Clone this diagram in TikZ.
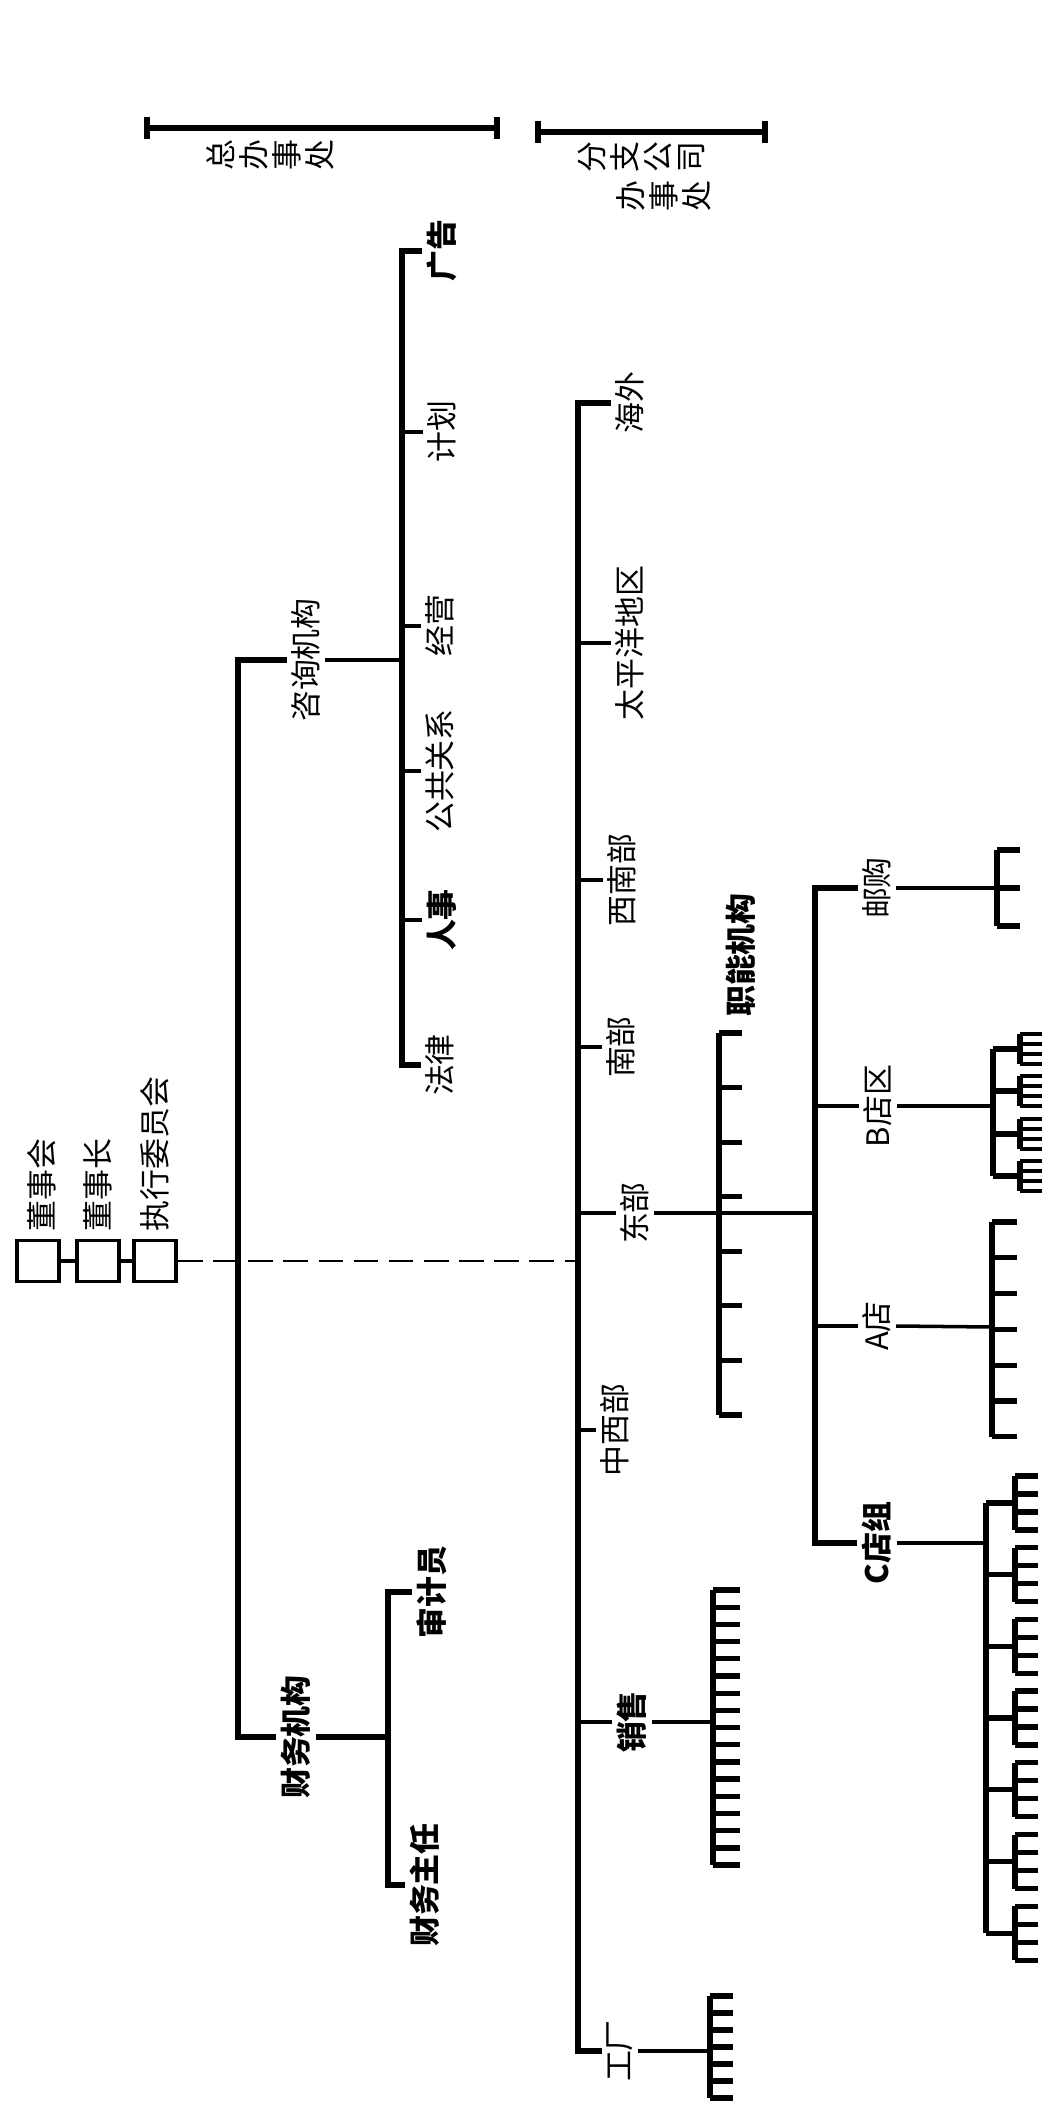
\documentclass[tikz,border=0pt]{standalone}
\usepackage{fontspec}
\setmainfont{Noto Sans CJK SC}
\usetikzlibrary{calc}
\tikzset{
  lbl/.style={rotate=90,inner sep=1.2pt,align=center,
    font=\fontsize{8.8}{9.4}\selectfont},
  boldlbl/.style={lbl,font=\fontsize{8.8}{9.4}\selectfont\bfseries},
  wire/.style={line width=1pt},
  heavy/.style={line width=1.5pt},
  dashwire/.style={line width=0.7pt,dash pattern=on 7pt off 3pt},
  member/.style={draw,line width=1.1pt,minimum width=4.2mm,
    minimum height=4.1mm,inner sep=0pt}
}
\begin{document}
\begin{tikzpicture}[x=0.1mm,y=-0.1mm]
  \useasboundingbox (0,0) rectangle (1062,2112);

  \coordinate (hql) at (147,128);
  \coordinate (hqr) at (497,128);
  \draw[heavy] (hql) -- (hqr);
  \draw[heavy] (hql) ++(0,-11) -- ++(0,22);
  \draw[heavy] (hqr) ++(0,-11) -- ++(0,22);
  \node[lbl] (hq) at (270,155) {总\\办\\事\\处};
  \coordinate (brl) at (538,132);
  \coordinate (brr) at (765,132);
  \draw[heavy] (brl) -- (brr);
  \draw[heavy] (brl) ++(0,-11) -- ++(0,22);
  \draw[heavy] (brr) ++(0,-11) -- ++(0,22);
  \node[lbl] (branch) at (641,157) {分\\支\\公\\司};
  \node[lbl] (branchb) at (664,196) {办\\事\\处};

  \node[member] (board) at (38,1261) {};
  \node[member] (chair) at (98,1261) {};
  \node[member] (exec) at (155,1261) {};
  \draw[wire] (board) -- (chair);
  \draw[wire] (chair) -- (exec);
  \node[lbl,anchor=west] (boardt) at (42,1236) {董事会};
  \node[lbl,anchor=west] (chairt) at (98,1236) {董事长};
  \node[lbl,anchor=west] (exect) at (155,1236) {执行委员会};

  \coordinate (tx) at (238,0);
  \coordinate (cvx) at (402,0);
  \coordinate (dvx) at (578,0);
  \coordinate (fvx) at (388,0);
  \coordinate (svx) at (815,0);

  \node[lbl] (consult) at (306,660) {咨询机构};
  \node[boldlbl] (finance) at (296,1737) {财务机构};
  \draw[heavy] (consult.north) -- (consult.north -| tx)
    -- (finance.north -| tx) -- (finance.north);

  \node[boldlbl] (ad) at (442,251) {广告};
  \node[lbl] (plan) at (442,432) {计划};
  \node[lbl] (ops) at (440,626) {经营};
  \node[lbl] (pr) at (440,771) {公共关系};
  \node[boldlbl] (hr) at (442,920) {人事};
  \node[lbl] (law) at (440,1065) {法律};
  \draw[wire] (consult.south) -- (consult.south -| cvx);
  \draw[heavy] (ad.north) -- (ad.north -| cvx) -- (law.north -| cvx) -- (law.north);
  \foreach \n in {plan,ops,pr,hr}
    \draw[wire] (\n.north) -- (\n.north -| cvx);

  \node[lbl] (oversea) at (630,403) {海外};
  \node[lbl] (pacific) at (630,643) {太平洋地区};
  \node[lbl] (southwest) at (622,880) {西南部};
  \node[lbl] (south) at (621,1047) {南部};
  \node[lbl] (east) at (635,1213) {东部};
  \node[lbl] (midwest) at (615,1430) {中西部};
  \node[boldlbl] (sales) at (632,1722) {销售};
  \node[lbl] (factory) at (620,2051) {工厂};
  \draw[heavy] (oversea.north) -- (oversea.north -| dvx)
    -- (factory.north -| dvx) -- (factory.north);
  \foreach \n in {pacific,southwest,south,east,midwest,sales}
    \draw[wire] (\n.north) -- (\n.north -| dvx);
  \draw[dashwire] (exec.east) -- (exec.east -| dvx);

  \node[boldlbl] (audit) at (432,1592) {审计员};
  \node[boldlbl] (cfo) at (425,1885) {财务主任};
  \draw[heavy] (finance.south) -- (finance.south -| fvx);
  \draw[heavy] (audit.north) -- (audit.north -| fvx)
    -- (cfo.north -| fvx) -- (cfo.north);

  \node[boldlbl] (func) at (741,955) {职能机构};
  \coordinate (functop) at (719,1033);
  \draw[heavy] (functop) -- ++(0,382);
  \foreach \k in {0,...,7}
    \draw[heavy] (functop) ++(0,\k*54.57) -- ++(23,0);

  \node[lbl] (mail) at (877,888) {邮购};
  \node[lbl] (bzone) at (878,1106) {B店区};
  \node[lbl] (astore) at (877,1326) {A店};
  \node[boldlbl] (cgroup) at (877,1543) {C店组};
  \draw[wire] (east.south) -- (east.south -| svx);
  \draw[heavy] (mail.north) -- (mail.north -| svx)
    -- (cgroup.north -| svx) -- (cgroup.north);
  \foreach \n in {bzone,astore}
    \draw[wire] (\n.north) -- (\n.north -| svx);

  \coordinate (mailc) at (997,888);
  \draw[wire] (mail.south) -- (mailc);
  \draw[heavy] (mailc) ++(0,-38) -- ++(0,76);
  \foreach \d in {-38,0,38}
    \draw[heavy] (mailc) ++(0,\d) -- ++(23,0);

  \coordinate (bzc) at (993,1106);
  \draw[wire] (bzone.south) -- (bzc);
  \draw[heavy] (bzc) ++(0,-57) -- ++(0,127);
  \foreach \c in {-57,-15,28,70} {
    \draw[heavy] (bzc) ++(0,\c) -- ++(27,0);
    \draw[heavy] (bzc) ++(27,\c-15) -- ++(0,30);
    \foreach \d in {-15,-5,5,15}
      \draw[wire] (bzc) ++(27,\c+\d) -- ++(22,0);
  }

  \coordinate (asc) at (992,1327);
  \draw[wire] (astore.south) -- (asc);
  \draw[heavy] (asc) ++(0,-105) -- ++(0,215);
  \foreach \k in {0,...,6}
    \draw[heavy] (asc) ++(0,-105+\k*35.8) -- ++(25,0);

  \coordinate (cgc) at (986,1543);
  \draw[wire] (cgroup.south) -- (cgc);
  \draw[heavy] (cgc) ++(0,-40) -- ++(0,430);
  \foreach \k in {0,...,6} {
    \draw[heavy] (cgc) ++(0,-40+\k*71.7) -- ++(29,0);
    \draw[heavy] (cgc) ++(29,-67+\k*71.7) -- ++(0,54);
    \foreach \d in {-27,-9,9,27}
      \draw[heavy] (cgc) ++(29,-40+\k*71.7+\d) -- ++(23,0);
  }

  \coordinate (slc) at (713,1722);
  \draw[wire] (sales.south) -- (slc);
  \draw[heavy] (slc) ++(0,-132) -- ++(0,275);
  \foreach \k in {0,...,16}
    \draw[heavy] (slc) ++(0,-132+\k*17.19) -- ++(27,0);

  \coordinate (fcc) at (710,2051);
  \draw[wire] (factory.south) -- (fcc);
  \draw[heavy] (fcc) ++(0,-55) -- ++(0,102);
  \foreach \k in {0,...,6}
    \draw[heavy] (fcc) ++(0,-55+\k*17) -- ++(23,0);
\end{tikzpicture}
\end{document}
